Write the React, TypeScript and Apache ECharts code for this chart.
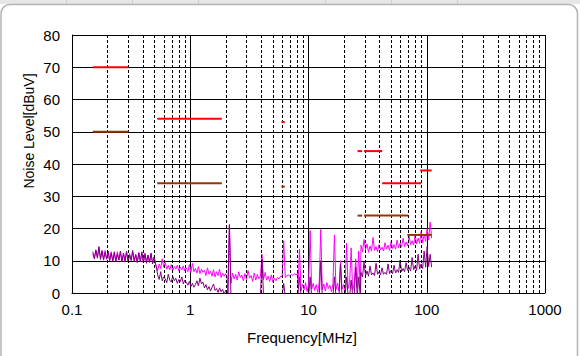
import React, { useEffect, useRef } from "react";
import * as echarts from "echarts";

// ---- axis ticks ----
const xTickLabels = ["0.1", "1", "10", "100", "1000"];
const yTicks = [0, 10, 20, 30, 40, 50, 60, 70, 80];
const minorGridFreqs = [
  0.2, 0.3, 0.4, 0.5, 0.6, 0.7, 0.8, 0.9,
  2, 3, 4, 5, 6, 7, 8, 9,
  20, 30, 40, 50, 60, 70, 80, 90,
  200, 300, 400, 500, 600, 700, 800, 900,
];

// ---- limit lines: [fStart MHz, fEnd MHz, level dBuV] ----
const redLimits = [
  [0.15, 0.3, 70],
  [0.526, 1.85, 54],
  [5.9, 6.3, 53],
  [26, 28.4, 44],
  [29.5, 42, 44],
  [42, 90, 34],
  [88, 110, 38],
];
const brownLimits = [
  [0.15, 0.3, 50],
  [0.526, 1.85, 34],
  [5.9, 6.3, 33],
  [26, 28.4, 24],
  [29.5, 70, 24],
  [68.5, 110, 18],
];

// ---- measured spectra, sweep segments [fStart, fEnd] ----
const sweepSegments = [
  [0.15, 0.51],
  [0.515, 2.05],
  [2.08, 8.1],
  [8.15, 27.4],
  [27.8, 110],
];

const magentaSeg1 = [12.0, 10.8, 13.0, 11.2, 14.0, 10.8, 12.8, 10.6, 13.2, 10.4, 12.4, 10.2, 12.8, 10.0, 12.2, 10.4, 12.8, 10.2, 12.6, 9.8, 12.4, 9.8, 13.0, 10.0, 12.2, 10.0, 12.8, 10.2, 12.0, 9.6, 12.6, 9.8, 12.2, 9.6, 12.4, 9.8, 11.6, 9.4, 12.0, 9.2, 11.2, 9.0];
const magentaSeg2 = [8.2, 7.0, 9.0, 7.6, 10.6, 8.0, 9.4, 7.4, 8.6, 7.2, 8.8, 7.0, 8.2, 7.4, 8.6, 6.8, 8.0, 7.2, 8.4, 6.8, 7.8, 6.6, 8.8, 6.4, 9.2, 6.6, 7.6, 6.2, 8.2, 6.0, 7.4, 6.4, 7.0, 5.4, 7.8, 5.8, 6.8, 5.2, 7.2, 5.0, 6.6, 5.4, 7.4, 4.8, 6.2, 5.2, 6.0, 4.6];
const magentaSeg3 = [0.0, 21.4, 3.0, 6.2, 4.4, 5.8, 4.0, 6.6, 4.8, 5.6, 3.8, 6.0, 4.2, 7.0, 4.6, 5.4, 3.6, 6.2, 4.0, 5.8, 4.4, 5.2, 12.0, 4.2, 6.4, 4.0, 5.2, 3.6, 5.6, 3.4, 4.6, 3.8, 4.8, 4.4, 5.2, 5.0, 16.2, 4.8, 5.4, 5.6, 5.2, 5.8, 5.4, 6.0, 5.6, 6.2];
const magentaSeg4 = [2.2, 13.6, 0.6, 2.8, 1.0, 3.2, 0.4, 2.4, 19.4, 1.2, 3.0, 0.8, 2.6, 0.2, 3.4, 19.7, 1.0, 2.8, 0.6, 3.2, 1.4, 2.4, 0.4, 2.8, 18.0, 1.0, 3.0, 0.6, 10.0, 1.2, 2.6, 0.8, 15.5, 1.4, 3.2, 14.0, 0.8, 2.8, 10.6, 1.6, 13.0, 1.0];
const magentaSeg5 = [14.8, 12.8, 16.6, 13.4, 15.2, 12.6, 14.6, 13.0, 17.2, 13.2, 14.4, 12.8, 15.0, 13.4, 14.2, 13.0, 15.6, 13.6, 14.8, 13.2, 16.0, 13.8, 15.0, 13.6, 16.4, 14.0, 15.4, 14.2, 17.0, 14.4, 15.8, 14.6, 17.6, 15.0, 16.2, 14.8, 18.0, 15.2, 17.0, 15.4, 19.0, 15.6, 18.2, 16.0, 20.0, 16.4, 22.0, 17.0];

const purpleSeg1 = [12.8, 10.6, 13.4, 10.8, 14.4, 10.4, 13.2, 10.2, 12.6, 10.6, 13.0, 10.0, 12.4, 9.8, 12.8, 9.6, 12.0, 10.2, 13.0, 9.6, 12.2, 10.0, 12.8, 9.6, 11.8, 10.2, 13.2, 9.8, 11.8, 9.4, 12.4, 9.8, 12.8, 9.4, 12.0, 9.2, 11.8, 9.6, 12.4, 9.0, 11.2, 8.8];
const purpleSeg2 = [8.4, 5.6, 4.2, 6.6, 3.8, 5.0, 4.4, 3.2, 5.8, 4.0, 3.4, 5.2, 3.8, 4.6, 3.0, 4.2, 3.6, 5.0, 2.8, 4.0, 3.2, 2.4, 3.6, 2.0, 3.0, 1.8, 2.6, 3.8, 2.2, 4.6, 2.8, 3.4, 1.6, 2.6, 1.0, 2.0, 0.6, 1.8, 2.8, 0.8, 1.4, 0.2, 1.6, 0.4, 1.2, -0.5, 0.8, 0.0];
const purpleSeg3 = [0.0, 21.0, -1, -1, -1, -1, -1, -1, -1, -1, -1, -1, -1, -1, -1, -1, -1, -1, -1, -1, -1, -1, 10.5, -1, -1, -1, -1, -1, -1, -1, -1, -1, -1, -1, -1, -1, 3.0, -1, -1, -1, -1, -1, -1, -1, -1, -1];
const purpleSeg4 = [-1, 5.0, -1, -1, -1, -1, -1, -1, 5.0, -1, -1, -1, -1, -1, -1, 10.0, -1, -1, -1, -1, -1, -1, -1, -1, 5.0, -1, -1, -1, 9.0, -1, -1, -1, 5.0, -1, -1, 4.0, -1, -1, 8.0, -1, 5.0, -1];
const purpleSeg5 = [6.4, 5.0, 9.6, 5.4, 6.8, 5.2, 8.4, 5.6, 6.2, 5.4, 9.2, 5.8, 6.6, 5.6, 7.8, 5.8, 6.4, 5.8, 9.0, 6.0, 7.0, 6.0, 8.6, 6.2, 7.2, 6.4, 10.2, 6.6, 7.6, 6.6, 9.4, 7.0, 8.0, 6.8, 11.0, 7.2, 8.4, 7.0, 12.0, 7.4, 9.0, 7.6, 13.0, 8.0, 14.4, 8.2, 12.0, 8.0];

const magentaSegs = [magentaSeg1, magentaSeg2, magentaSeg3, magentaSeg4, magentaSeg5];
const purpleSegs = [purpleSeg1, purpleSeg2, purpleSeg3, purpleSeg4, purpleSeg5];

function sweep(segs: number[][]) {
  const out: number[][] = [];
  segs.forEach((vals, s) => {
    const [f0, f1] = sweepSegments[s];
    const n = vals.length;
    vals.forEach((v, i) => {
      const f = f0 * Math.pow(f1 / f0, i / (n - 1));
      out.push([f, v]);
    });
  });
  return out;
}

const FONT = "'Liberation Sans', Arial, sans-serif";

export default function App() {
  const ref = useRef<HTMLDivElement>(null);
  useEffect(() => {
    if (!ref.current) return;
    const chart = echarts.init(ref.current, undefined, { renderer: "svg" });

    const limitSeries = (lims: number[][], color: string) =>
      lims.map((l) => ({
        type: "line",
        data: [
          [l[0], l[2]],
          [l[1], l[2]],
        ],
        showSymbol: false,
        symbol: "none",
        lineStyle: { color, width: 2, cap: "butt" },
        z: 5,
        silent: true,
      }));

    const option: any = {
      animation: false,
      backgroundColor: "transparent",
      grid: { left: 72, right: 35, top: 35, bottom: 63, containLabel: false },
      xAxis: {
        type: "log",
        logBase: 10,
        min: 0.1,
        max: 1000,
        axisLine: { show: true, lineStyle: { color: "#000", width: 1 } },
        axisTick: { show: false },
        splitLine: { show: true, lineStyle: { color: "#000", width: 1 } },
        axisLabel: {
          color: "#000",
          fontFamily: FONT,
          fontSize: 15,
          margin: 9,
          formatter: (v: number) => {
            const idx = Math.round(Math.log10(v)) + 1;
            return xTickLabels[idx] ?? String(v);
          },
        },
      },
      yAxis: {
        type: "value",
        min: yTicks[0],
        max: yTicks[yTicks.length - 1],
        interval: 10,
        axisLine: { show: true, lineStyle: { color: "#000", width: 1 } },
        axisTick: { show: false },
        splitLine: { show: true, lineStyle: { color: "#000", width: 1 } },
        axisLabel: { color: "#000", fontFamily: FONT, fontSize: 15, margin: 12 },
      },
      series: [
        {
          type: "line",
          data: [],
          symbol: "none",
          silent: true,
          markLine: {
            silent: true,
            symbol: ["none", "none"],
            label: { show: false },
            lineStyle: { color: "#000", width: 1, type: [3, 2] },
            data: minorGridFreqs.map((f) => ({ xAxis: f })),
          },
          z: 1,
        },
        {
          type: "line",
          data: sweep(magentaSegs),
          symbol: "none",
          showSymbol: false,
          lineStyle: { color: "#ff00ff", width: 1 },
          z: 3,
          silent: true,
        },
        {
          type: "line",
          data: sweep(purpleSegs),
          symbol: "none",
          showSymbol: false,
          lineStyle: { color: "#800080", width: 1 },
          z: 4,
          silent: true,
        },
        ...limitSeries(redLimits, "#ff0000"),
        ...limitSeries(brownLimits, "#993300"),
      ],
      graphic: [
        { type: "rect", shape: { x: 0, y: 0, width: 580, height: 4 }, style: { fill: "#e6e6e6" }, silent: true },
        ...[66, 132, 198, 325, 391, 457].map((x) => ({
          type: "line",
          shape: { x1: x + 0.5, y1: 0, x2: x + 0.5, y2: 4 },
          style: { stroke: "#cfcfcf", lineWidth: 1 },
          silent: true,
        })),
        {
          type: "rect",
          shape: { x: 1, y: 4.5, width: 576.5, height: 370, r: 9 },
          style: { fill: "none", stroke: "#b4b4b4", lineWidth: 1.5 },
          silent: true,
        },
        {
          type: "text",
          x: 29,
          y: 131,
          rotation: Math.PI / 2,
          style: {
            text: "Noise Level[dBuV]",
            fontFamily: FONT,
            fontSize: 14,
            fill: "#000",
            align: "center",
            verticalAlign: "middle",
          },
          silent: true,
        },
        {
          type: "text",
          x: 302,
          y: 337,
          style: {
            text: "Frequency[MHz]",
            fontFamily: FONT,
            fontSize: 15,
            fill: "#000",
            align: "center",
            verticalAlign: "middle",
          },
          silent: true,
        },
      ],
    };
    chart.setOption(option);
    return () => chart.dispose();
  }, []);
  return (
    <div
      ref={ref}
      style={{ position: "absolute", left: 0, top: 0, width: 580, height: 356, background: "#fff" }}
    />
  );
}
